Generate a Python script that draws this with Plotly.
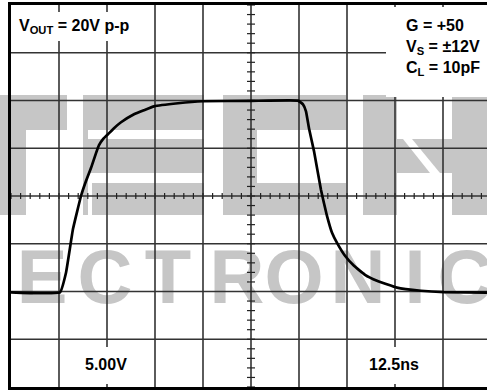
import numpy as np
import plotly.graph_objects as go

# ---- data (time in ns, output voltage in V) ----
time_ns = [0, 12.76, 14.32, 16.15, 18.23, 19.53, 20.83, 22.14, 22.92, 23.96, 25.26,
           26.82, 28.65, 32.03, 34.6, 37.24, 43.5, 50.0, 62.5, 74.74, 76.04, 76.82,
           77.6, 78.9, 80.73, 82.29, 83.6, 84.9, 86.98, 89.32, 92.19, 95.31, 100.52,
           106.77, 112.76, 125.0]
vout_v = [-10.09, -10.09, -8.04, -3.44, 0.0, 1.57, 2.92, 4.49, 5.32, 5.95, 6.47,
          7.10, 7.72, 8.56, 8.98, 9.39, 9.71, 9.92, 9.96, 9.99, 9.60, 8.87,
          7.10, 4.70, 0.63, -2.09, -3.86, -4.91, -6.26, -7.31, -8.25, -8.87, -9.60,
          -9.92, -10.07, -10.13]

title_label = "V<sub>OUT</sub> = 20V p-p"
cond_label = "G = +50<br>V<sub>S</sub> = \u00b112V<br>C<sub>L</sub> = 10pF"
volt_label = "5.00V"
time_label = "12.5ns"

wm_letters = ["L", "E", "C", "T", "R", "O", "N", "I", "C"]
wm_x_px = [-14, 42, 105, 168, 237, 294, 358, 415, 465]

# ---- scope geometry ----
NS_DIV = 12.5
V_DIV = 5.0
W, H = 487, 390
L, T, B = 11, 5, 3
PW = W - L
PH = H - T - B
xmax = PW / 48.0 * NS_DIV

def px_x(p):
    return (p - L) / PW

def px_y(p):
    return (H - B - p) / PH

def data_x(p):
    return (p - L) / 48.0 * NS_DIV

def data_y(p):
    return (T + PH / 2 - p) / (PH / 8) * V_DIV

fig = go.Figure()

# watermark "ELECTRONIC" (text trace so grid draws over it)
fig.add_trace(go.Scatter(
    x=[data_x(p) for p in wm_x_px], y=[data_y(283.5)] * len(wm_letters),
    mode="text", text=wm_letters, cliponaxis=False, hoverinfo="skip",
    textposition="middle center",
    textfont=dict(family="Liberation Sans, Arial", size=76, color="#c6c6c6", weight="bold"),
    showlegend=False))

# graticule
gx, gy = [], []
for k in range(1, 10):
    gx += [k * NS_DIV, k * NS_DIV, None]
    gy += [-4 * V_DIV, 4 * V_DIV, None]
for k in range(-3, 4):
    gx += [0, 10 * NS_DIV, None]
    gy += [k * V_DIV, k * V_DIV, None]
fig.add_trace(go.Scatter(x=gx, y=gy, mode="lines", line=dict(color="#333333", width=1.6),
                         hoverinfo="skip", showlegend=False))

# center-line minor ticks
tx, ty = [], []
th = 3 / (PH / 8) * V_DIV
for k in range(0, 51):
    t = k * NS_DIV / 5
    tx += [t, t, None]
    ty += [-th, th, None]
tw = 4 / 48.0 * NS_DIV
for k in range(-20, 21):
    v = k * V_DIV / 5
    tx += [5 * NS_DIV - tw, 5 * NS_DIV + tw, None]
    ty += [v, v, None]
fig.add_trace(go.Scatter(x=tx, y=ty, mode="lines", line=dict(color="#222222", width=1.2),
                         hoverinfo="skip", showlegend=False))

# waveform
fig.add_trace(go.Scatter(x=time_ns, y=vout_v, mode="lines",
                         line=dict(color="black", width=2.7, shape="spline", smoothing=0.3),
                         showlegend=False))

shapes = []
# watermark "TECH" blocks (pixel boxes)
gray = "#c6c6c6"
rects = [(-5, 95, 67, 130), (-5, 130, 26, 215),
         (83, 95, 204, 130), (83, 139, 204, 173), (92, 183, 204, 215), (83, 95, 88, 215),
         (223, 95, 346, 130), (223, 130, 257, 183), (223, 183, 346, 215),
         (363, 95, 397, 215), (452, 95, 495, 215)]
for x0, y0, x1, y1 in rects:
    shapes.append(dict(type="rect", xref="paper", yref="paper",
                       x0=px_x(x0), x1=px_x(x1), y0=px_y(y1), y1=px_y(y0),
                       fillcolor=gray, line=dict(width=0), layer="below"))
polys = [[(397, 139), (403, 139), (430, 173), (397, 173)],
         [(412, 139), (452, 139), (452, 173), (440, 173)]]
for poly in polys:
    path = "M " + " L ".join(f"{px_x(a):.5f},{px_y(b):.5f}" for a, b in poly) + " Z"
    shapes.append(dict(type="path", xref="paper", yref="paper", path=path,
                       fillcolor=gray, line=dict(width=0), layer="below"))

# white label boxes
boxes = [(13, 12, 139, 41), (386, 7, 490, 97), (78, 347, 136, 384), (365, 347, 423, 384)]
for x0, y0, x1, y1 in boxes:
    shapes.append(dict(type="rect", xref="paper", yref="paper",
                       x0=px_x(x0), x1=px_x(x1), y0=px_y(y1), y1=px_y(y0),
                       fillcolor="white", line=dict(width=0), layer="above"))

font = dict(family="Liberation Sans, Arial", size=16, color="black", weight="bold")
annotations = [
    dict(text=title_label, x=px_x(17), y=px_y(26), xanchor="left", yanchor="middle"),
    dict(text=cond_label, x=px_x(404), y=px_y(15), xanchor="left", yanchor="top", align="left"),
    dict(text=volt_label, x=px_x(106), y=px_y(364), xanchor="center", yanchor="middle"),
    dict(text=time_label, x=px_x(394), y=px_y(364), xanchor="center", yanchor="middle"),
]
for a in annotations:
    a.update(xref="paper", yref="paper", showarrow=False, font=font)

fig.update_layout(
    width=W, height=H,
    margin=dict(l=L, r=0, t=T, b=B),
    paper_bgcolor="white", plot_bgcolor="white",
    shapes=shapes, annotations=annotations,
    xaxis=dict(range=[0, xmax], showgrid=False, zeroline=False, showticklabels=False,
               ticks="", showline=True, mirror=True, linecolor="black", linewidth=2.6,
               fixedrange=True),
    yaxis=dict(range=[-4 * V_DIV, 4 * V_DIV], showgrid=False, zeroline=False,
               showticklabels=False, ticks="", showline=True, mirror=False,
               linecolor="black", linewidth=2.6, fixedrange=True),
)

fig.write_html("out.html",
               config={"displayModeBar": False},
               post_script="document.body.style.margin='0';document.body.style.overflow='hidden';")
